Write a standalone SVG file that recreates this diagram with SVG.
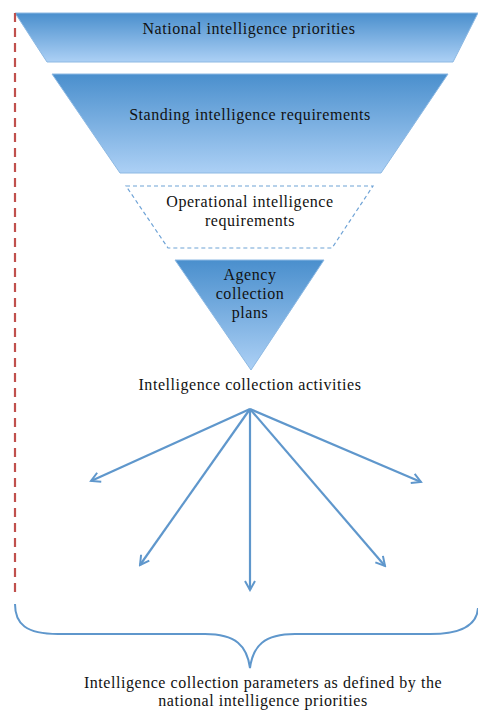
<svg xmlns="http://www.w3.org/2000/svg" width="478" height="710" viewBox="0 0 478 710">
<defs>
<linearGradient id="g" x1="0" y1="0" x2="0" y2="1">
<stop offset="0" stop-color="#4a8fcd"/>
<stop offset="1" stop-color="#acd0f5"/>
</linearGradient>
<marker id="ah" viewBox="0 0 12 12" refX="10" refY="6" markerWidth="12" markerHeight="12" markerUnits="userSpaceOnUse" orient="auto">
<path d="M1,1 L10,6 L1,11" fill="none" stroke="#5f97cc" stroke-width="2"/>
</marker>
<style>
.t{font-family:"Liberation Serif","Times New Roman",serif;font-size:16px;letter-spacing:0.55px;fill:#111;text-anchor:middle}
.sh{fill:url(#g);stroke:#8db9e3;stroke-width:1}
.ar{stroke:#5f97cc;stroke-width:2.2;fill:none;marker-end:url(#ah)}
</style>
</defs>
<rect width="478" height="710" fill="#fff"/>
<g id="national">
<polygon class="sh" points="15,13 478,13 453,62 47,62"/>
<text class="t" x="249" y="34">National intelligence priorities</text>
</g>
<g id="standing">
<polygon class="sh" points="52,74 448,74 381,173 120,173"/>
<text class="t" x="250" y="120">Standing intelligence requirements</text>
</g>
<g id="operational">
<polygon points="126,186 373,186 332,248 168,248" fill="none" stroke="#6fa3d6" stroke-width="1.2" stroke-dasharray="4,3"/>
<text class="t" x="250" y="207">Operational intelligence</text>
<text class="t" x="250" y="226">requirements</text>
</g>
<g id="agency">
<polygon class="sh" points="175,260 324,260 251,370"/>
<text class="t" x="250" y="280">Agency</text>
<text class="t" x="250" y="299">collection</text>
<text class="t" x="250" y="318">plans</text>
</g>
<g id="activities">
<text class="t" x="250" y="390">Intelligence collection activities</text>
</g>
<g id="connectors">
<line class="ar" x1="250" y1="409" x2="91" y2="481"/>
<line class="ar" x1="250" y1="409" x2="140" y2="565"/>
<line class="ar" x1="250" y1="409" x2="250" y2="590"/>
<line class="ar" x1="250" y1="409" x2="385" y2="566"/>
<line class="ar" x1="250" y1="409" x2="421" y2="482"/>
</g>
<g id="boundary">
<line x1="15" y1="13" x2="15" y2="595" stroke="#c0504d" stroke-width="2.2" stroke-dasharray="9,6"/>
</g>
<g id="brace">
<path d="M15,604 C15,624 26,634 58,634 L205,634 C236,634 247,646 250,668 C253,646 264,634 295,634 L430,634 C462,634 477,624 478,608" fill="none" stroke="#5f97cc" stroke-width="2"/>
</g>
<g id="parameters">
<text class="t" x="263" y="688">Intelligence collection parameters as defined by the</text>
<text class="t" x="263" y="706">national intelligence priorities</text>
</g>
</svg>
